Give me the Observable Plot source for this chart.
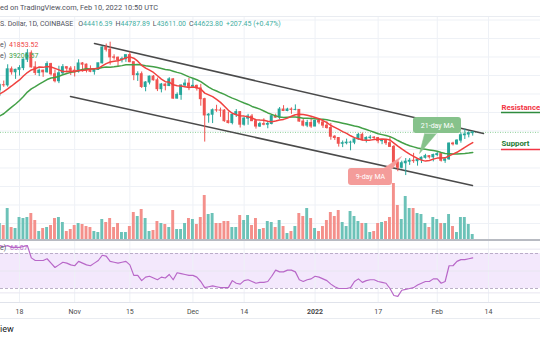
<!DOCTYPE html>
<html><head><meta charset="utf-8">
<script src="https://cdn.jsdelivr.net/npm/d3@7"></script>
<script src="https://cdn.jsdelivr.net/npm/@observablehq/plot@0.6"></script>
<style>
body{margin:0;background:#fff;}
#wrap{position:relative;width:540px;height:340px;overflow:hidden;background:#fff;font-family:Roboto,"Noto Sans",sans-serif;}
.abs{position:absolute;white-space:nowrap;}
.layer{position:absolute;left:0;width:540px;overflow:hidden;}
.layer svg{overflow:hidden;display:block;}
.teal{color:#3fae9f;}
.hl{position:absolute;left:0;width:540px;}
</style></head>
<body><div id="wrap"></div>
<script>
// ---------- data ----------
const startDay = "2021-10-13";
const opens = [56000,57370,57350,61670,60880,61530,62000,64280,66000,62200,
60690,61300,60860,63080,60330,58450,60600,62250,61860,61300,
61000,63250,62930,61400,61000,61500,63300,67550,66950,64900,
64800,64150,64400,65500,63600,60100,60350,56900,58100,59700,
58700,56300,57550,57150,58950,53750,54750,57300,57800,56950,
57200,56500,53600,49200,49400,50600,50550,50500,47650,47150,
49400,50100,46700,48350,48900,47650,46200,46850,46700,46900,
49000,48600,50800,50400,50800,50700,50700,47550,46450,47150,
46200,47700,47300,46450,45800,43450,43100,41550,41700,41850,
41850,42750,43950,42600,43100,43200,43100,42250,42400,41700,
40700,36450,35050,36280,36700,36950,36850,37150,37750,38200,
37900,38500,38750,36950,37350,41600,41400,42400,43850,44050,
44416.39];
const highs = [57700,58500,62900,62300,61700,62650,64450,67000,66650,63700,
61750,61450,63700,63300,61500,62500,62950,62350,62400,62400,
64250,63500,63100,62600,61550,63300,67800,68500,69000,65600,
65000,64950,65500,66300,63600,61000,60950,58350,59850,60000,
59300,57850,57750,59400,59200,55300,57400,58850,59200,59050,
57400,57600,53850,49700,50950,51950,51200,50800,50100,49500,
50800,50200,48700,49500,49450,48000,47350,48300,47550,49350,
49550,51350,51850,51150,51250,52050,50700,48150,47900,48550,
47950,47950,47550,47500,47050,43750,43150,42300,42800,42250,
43100,44350,44450,43450,43800,43500,43200,42700,42600,43500,
41100,36850,36850,37550,37550,38950,37250,38000,38700,38350,
38750,39300,38850,37400,41750,41950,42650,44500,45500,44800,
44787.89];
const lows = [54300,56800,56850,60100,58950,59850,61300,63500,62000,60000,
59700,59500,60650,59850,58000,57800,60200,60700,60000,59600,
60650,60900,60700,60750,60100,61350,63100,66350,62800,64150,
62300,63400,63550,63450,58600,58400,56500,55600,57450,58500,
55650,55300,55850,57000,53550,53650,53300,56700,55900,56500,
55800,51700,42000,47100,47000,50050,48700,47350,46900,46650,
48650,45800,46300,46550,47550,45500,45950,46400,45600,46650,
48450,48050,50250,50200,49500,50450,47350,46100,45900,45700,
46200,46700,45700,45500,42500,42450,40650,40500,41250,39650,
41300,42500,42300,41750,42600,42600,41550,41300,41100,40600,
35500,34000,34750,32950,35700,36250,35500,36200,37400,37400,
36650,38050,36600,36250,37050,40950,41150,41700,42700,43150,
43611.00];
const closes = [57370,57350,61670,60880,61530,62000,64280,66000,62200,60690,
61300,60860,63080,60330,58450,60600,62250,61860,61300,61000,
63250,62930,61400,61000,61500,63300,67550,66950,64900,64800,
64150,64400,65500,63600,60100,60350,56900,58100,59700,58700,
56300,57550,57150,58950,53750,54750,57300,57800,56950,57200,
56500,53600,49200,49400,50600,50550,50500,47650,47150,49400,
50100,46700,48350,48900,47650,46200,46850,46700,46900,49000,
48600,50800,50400,50800,50700,50700,47550,46450,47150,46200,
47700,47300,46450,45800,43450,43100,41550,41700,41850,41850,
42750,43950,42600,43100,43200,43100,42250,42400,41700,40700,
36450,35050,36280,36700,36950,36850,37150,37750,38200,37900,
38500,38750,36950,37350,41600,41400,42400,43850,44050,44416.39,
44623.80];
// volume, thousand BTC
const volumes = [11.2,9.8,21.7,8.4,7.7,15.4,14.7,15.4,18.2,13.3,
5.6,7.7,8.4,9.8,14.7,15.4,11.9,5.6,7.0,9.8,
11.2,10.5,9.1,8.4,5.6,4.9,14.0,11.9,14.7,8.4,
11.2,4.9,4.9,9.1,18.9,16.1,21.0,14.7,5.6,6.3,
12.6,11.2,10.5,8.4,20.3,7.0,7.0,11.2,14.7,14.0,
10.5,15.4,30.8,17.5,18.2,11.2,11.2,12.6,12.6,8.4,
8.4,16.8,13.3,16.8,9.8,14.7,7.0,7.7,12.6,11.9,
8.4,13.3,9.1,4.2,5.6,9.1,18.2,16.1,21.7,14.7,
7.7,5.6,9.1,13.3,18.9,16.1,20.3,11.9,9.1,19.6,
16.1,12.6,11.2,11.2,4.9,5.6,11.2,11.9,12.6,15.4,
39.2,23.8,14.0,30.1,21.7,21.7,18.2,17.5,11.2,8.4,
15.4,14.0,11.2,11.2,17.5,9.1,4.9,15.4,15.4,10.5,
3.5];
const ma9 = [55010,55670,56380,57170,58010,58790,59860,60800,61490,61860,
62290,62200,62440,62310,61920,61510,61100,61070,61130,61100,
61360,61330,61460,61730,61830,61940,62580,63210,63640,63820,
63970,64300,64800,65030,64680,63880,62760,62000,61430,60820,
59920,59040,58330,58210,57480,57240,57160,56940,56760,56860,
56730,56330,55240,54760,54290,53540,52730,51700,50590,49800,
49410,49130,49020,48830,48510,48030,47940,47890,47610,47490,
47700,47970,48130,48480,48980,49400,49500,49460,49260,48990,
48640,48300,47820,47280,46480,45980,45430,44820,44340,43700,
43200,42920,42570,42520,42530,42700,42770,42820,42800,42570,
41730,40900,40140,39420,38740,38140,37570,37130,36860,37010,
37390,37670,37700,37740,38270,38730,39240,39880,40570,41220,
41853.52];
const ma21 = [49070,49660,50560,51430,52300,53240,54350,55520,56400,57000,
57640,58250,58910,59330,59480,59800,60200,60530,60850,61010,
61360,61620,61810,61780,61800,61890,62160,62290,62230,62360,
62520,62670,62890,62910,62900,63000,62820,62620,62510,62390,
62170,61900,61630,61510,61170,60850,60570,60100,59620,59260,
58860,58360,57630,56870,56250,55800,55320,54890,54370,53880,
53470,53010,52570,52180,51640,51280,50900,50400,49880,49500,
49090,48810,48660,48740,48800,48800,48660,48470,48450,48400,
48320,48190,48180,48050,47800,47580,47360,47110,46880,46640,
46350,46130,45740,45390,45030,44670,44270,44020,43790,43480,
43020,42420,41900,41430,41010,40700,40410,40230,40070,39880,
39710,39520,39190,38940,38870,38790,38750,38830,38910,39040,
39206.57];
const rsiValues = [79,78,79,77,77,77,78,79,65,62,
62,62,64,59,54,57,60,59,57,56,
61,59,57,56,59,62,68,67,61,60,
59,60,61,57,45,45,39,43,44,42,
40,43,42,46,40,48,47,46,45,45,
43,38,31,32,33,32,31,31,31,39,
36,35,39,40,38,36,37,37,38,44,
51,49,49,51,51,49,40,38,40,41,
44,43,41,39,35,32,30,30,30,31,
38,41,37,39,40,40,38,37,36,30,
22,21,28,29,30,31,34,36,38,38,
41,41,36,38,56,56,61,63,63,64,
65.07];
const tickDates = ["2021-10-18","2021-11-01","2021-11-15","2021-12-01","2021-12-14","2022-01-01","2022-01-17","2022-02-01","2022-02-14"];
const tickLabels = ["18","Nov","15","Dec","14","2022","17","Feb","14"];
const tickBold = [false,false,false,false,false,true,false,false,false];
const priceGrid = [20000,25000,30000,35000,40000,45000,50000,55000,60000,65000,70000,75000];
const rsiGrid = [25,50,75];
const upperChannel = [{date:"2021-11-06T00:43Z",price:68650},{date:"2022-02-12T17:31Z",price:44320}];
const lowerChannel = [{date:"2021-10-30T22:34Z",price:54320},{date:"2022-02-09T22:34Z",price:30270}];
const levels = [
  {date:"2022-02-17T07:12Z", end:"2022-02-28T00:00Z", price:50000, label:"Resistance", text:"#f23645", line:"#2e8b3e", dy:-4.5},
  {date:"2022-02-17T07:12Z", end:"2022-02-28T00:00Z", price:40000, label:"Support", text:"#1f7a34", line:"#f23645", dy:-6}
];
const callouts = [
  {label:"21-day MA", fill:"#86c28b", x1:"2022-01-25T23:15Z", x2:"2022-02-07T03:36Z", y1:44320, y2:48650, tx:"2022-02-01T01:26Z", ty:46480,
   tail:[{date:"2022-01-28T19:12Z",price:44320},{date:"2022-01-27T12:00Z",price:38900},{date:"2022-01-31T19:12Z",price:44320}]},
  {label:"9-day MA", fill:"#f49c9a", x1:"2022-01-09T11:31Z", x2:"2022-01-20T15:22Z", y1:30270, y2:34860, tx:"2022-01-15T01:26Z", ty:32560,
   tail:[{date:"2022-01-18T08:38Z",price:34860},{date:"2022-01-22T22:19Z",price:38100},{date:"2022-01-20T15:22Z",price:34860}]}
];
const lastPrice = 44623.80;
const rsiBand = {lo:30, hi:70};

// ---------- build ----------
const DAY = 864e5;
const t0 = Date.parse(startDay);
const rows = closes.map((c,i)=>({date:new Date(t0+i*DAY), open:opens[i], high:highs[i], low:lows[i], close:c,
  volume:volumes[i], ma9:ma9[i], ma21:ma21[i], rsi:rsiValues[i], up:c>=opens[i]}));
const ticks = tickDates.map((d,i)=>({date:new Date(d), label:tickLabels[i], bold:tickBold[i]}));
const parse = a => a.map(p=>({...p, date:new Date(p.date)}));
const xDomain = [new Date(Date.UTC(2021,9,13,4,16)), new Date(Date.UTC(2022,1,27,4,48))];
const priceDomain = [15399, 75947];
const UP="#26a69a", DOWN="#ef5350", VUP="#6cc2b8", VDOWN="#f4908b";
const half = () => 0.37*DAY;
const base = {width:540, marginTop:0, marginRight:0, marginBottom:0, marginLeft:0,
  style:{background:"transparent", fontFamily:"Roboto, sans-serif", overflow:"hidden"}};
const X = {type:"utc", domain:xDomain, axis:null};

const wrap = document.getElementById("wrap");
function layer(svg, top){ const d=document.createElement("div"); d.className="layer"; d.style.top=top+"px"; d.appendChild(svg); wrap.appendChild(d); }
function hline(top, h, color){ const d=document.createElement("div"); d.className="hl"; d.style.top=top+"px"; d.style.height=h+"px"; d.style.background=color; wrap.appendChild(d); }
function txt(html, css){ const d=document.createElement("div"); d.className="abs"; d.style.cssText+=css; d.innerHTML=html; wrap.appendChild(d); return d; }

// grid layer
layer(Plot.plot({...base, height:224, x:X, y:{domain:priceDomain, axis:null},
  marks:[
    Plot.ruleY(priceGrid, {stroke:"#eef1f6", strokeWidth:1}),
    Plot.ruleX(ticks, {x:"date", stroke:"#eef1f6", strokeWidth:1})
  ]}), 16);

// volume layer
layer(Plot.plot({...base, height:224, marginBottom:1, x:X, y:{domain:[0,156.1], axis:null},
  marks:[
    Plot.rectY(rows, {filter:d=>d.up, x1:d=>new Date(+d.date-half()), x2:d=>new Date(+d.date+half()), y:"volume", fill:VUP}),
    Plot.rectY(rows, {filter:d=>!d.up, x1:d=>new Date(+d.date-half()), x2:d=>new Date(+d.date+half()), y:"volume", fill:VDOWN})
  ]}), 16);

// price layer
const C = callouts.map(c=>({...c, x1:new Date(c.x1), x2:new Date(c.x2), tx:new Date(c.tx), tail:parse(c.tail)}));
const L = levels.map(l=>({...l, date:new Date(l.date), end:new Date(l.end)}));
layer(Plot.plot({...base, height:224, x:X, y:{domain:priceDomain, axis:null},
  marks:[
    Plot.ruleY([lastPrice], {stroke:"#8fd19a", strokeWidth:1, strokeDasharray:"1,1.5"}),
    Plot.line(parse(upperChannel), {x:"date", y:"price", stroke:"#4a4a4a", strokeWidth:1.5}),
    Plot.line(parse(lowerChannel), {x:"date", y:"price", stroke:"#4a4a4a", strokeWidth:1.5}),
    Plot.ruleX(rows, {filter:d=>d.up, x:"date", y1:"low", y2:"high", stroke:UP, strokeWidth:1}),
    Plot.ruleX(rows, {filter:d=>!d.up, x:"date", y1:"low", y2:"high", stroke:DOWN, strokeWidth:1}),
    Plot.rect(rows, {filter:d=>d.up, x1:d=>new Date(+d.date-half()), x2:d=>new Date(+d.date+half()), y1:"open", y2:"close", fill:UP, insetTop:-0.5, insetBottom:-0.5}),
    Plot.rect(rows, {filter:d=>!d.up, x1:d=>new Date(+d.date-half()), x2:d=>new Date(+d.date+half()), y1:"open", y2:"close", fill:DOWN, insetTop:-0.5, insetBottom:-0.5}),
    Plot.line(rows, {x:"date", y:"ma21", stroke:"#43a047", strokeWidth:1.5}),
    Plot.line(rows, {x:"date", y:"ma9", stroke:"#f0413f", strokeWidth:1.5}),
    ...C.map(c=>Plot.line(c.tail, {x:"date", y:"price", fill:c.fill, stroke:c.fill, strokeWidth:0.5})),
    Plot.rect(C, {x1:"x1", x2:"x2", y1:"y1", y2:"y2", fill:"fill", rx:3}),
    Plot.text(C, {x:"tx", y:"ty", text:"label", fill:"white", fontSize:7}),
    Plot.ruleY(L, {x1:"date", x2:"end", y:"price", stroke:"line", strokeWidth:1.5}),
    Plot.text(L.slice(0,1), {x:"date", y:"price", text:"label", textAnchor:"start", fill:"text", fontWeight:"bold", fontSize:7.8, dy:-4.5}),
    Plot.text(L.slice(1), {x:"date", y:"price", text:"label", textAnchor:"start", fill:"text", fontWeight:"bold", fontSize:7.8, dy:-6})
  ], color:{type:"identity"}}), 16);

// RSI layer (pane 240..302)
layer(Plot.plot({...base, height:62, x:X, y:{domain:[0,100], range:[74.25,-13.25], axis:null},
  marks:[
    Plot.rect([rsiBand], {y1:"lo", y2:"hi", fill:"#f3e8fc"}),
    Plot.ruleX(ticks, {x:"date", stroke:"#eef1f6"}),
    Plot.ruleY(rsiGrid, {stroke:"#e8e6f0"}),
    Plot.ruleY([rsiBand.lo, rsiBand.hi], {stroke:"#a99cba", strokeWidth:0.8, strokeDasharray:"3,2"}),
    Plot.line(rows, {x:"date", y:"rsi", stroke:"#b867c8", strokeWidth:1.2})
  ]}), 240);

// axis layer
layer(Plot.plot({...base, height:16, x:X, y:{axis:null},
  marks:[
    Plot.text(ticks, {filter:d=>!d.bold, x:"date", text:"label", frameAnchor:"middle", fontSize:7, fill:"#4a4a4a"}),
    Plot.text(ticks, {filter:d=>d.bold, x:"date", text:"label", frameAnchor:"middle", fontSize:7, fontWeight:"bold", fill:"#4a4a4a"})
  ]}), 302.5);

// separators
hline(16, 1, "#e9ecf1");
hline(239, 1.5, "#b8bbc2");
hline(301.5, 1, "#e0e3eb");
hline(318, 1, "#e9ecf1");

// header texts
txt('ed on TradingView.com, Feb 10, 2022 10:50 UTC', 'left:0;top:3px;font-size:7.4px;line-height:10px;color:#4f525c;');
txt('S. Dollar, 1D, COINBASE<span style="margin-left:5px">O</span><span class="teal">44416.39</span><span style="margin-left:3px">H</span><span class="teal">44787.89</span><span style="margin-left:3px">L</span><span class="teal">43611.00</span><span style="margin-left:3px">C</span><span class="teal">44623.80</span><span class="teal" style="margin-left:3px">+207.45 (+0.47%)</span>',
  'left:0;top:19px;font-size:7px;line-height:10px;color:#4f525c;');
txt('e)', 'left:0;top:40px;font-size:7px;line-height:10px;color:#4f525c;');
txt(ma9[ma9.length-1].toFixed(2), 'left:9px;top:40px;font-size:7px;line-height:10px;color:#f0413f;');
txt('e)', 'left:0;top:51px;font-size:7px;line-height:10px;color:#4f525c;');
txt(ma21[ma21.length-1].toFixed(2), 'left:9px;top:51px;font-size:7px;line-height:10px;color:#43a047;');
txt('e)', 'left:0;top:243px;font-size:7px;line-height:10px;color:#4f525c;');
txt(rsiValues[rsiValues.length-1].toFixed(2), 'left:10px;top:243px;font-size:7px;line-height:10px;color:#b867c8;');
txt('iew', 'left:0;top:324px;font-size:9px;line-height:11px;color:#131722;');
</script></body></html>
